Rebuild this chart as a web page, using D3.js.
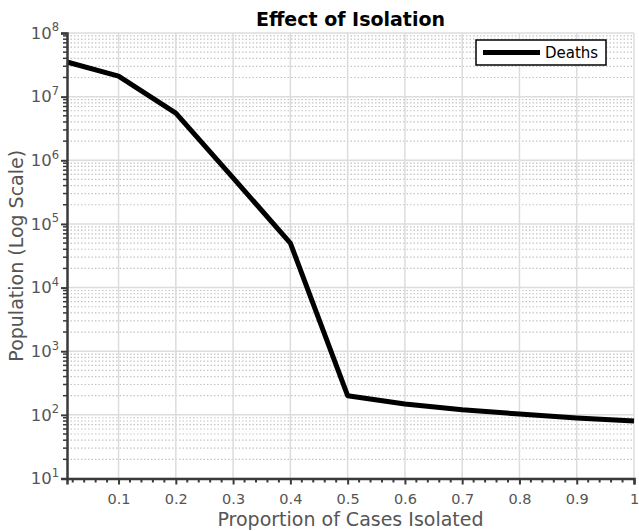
<!DOCTYPE html>
<html>
<head>
<meta charset="utf-8">
<script src="https://cdn.jsdelivr.net/npm/d3@7"></script>
<style>
  html, body { margin: 0; padding: 0; background: #fff; }
  svg { display: block; font-family: "DejaVu Sans", sans-serif; }
</style>
</head>
<body>
<svg id="chart" width="639" height="531"></svg>
<script>
// Proportion of cases isolated vs. resulting deaths
const isolated = [0.01, 0.1, 0.2, 0.3, 0.4, 0.5, 0.6, 0.7, 0.8, 0.9, 1.0];
const deaths = [3.5e7, 2.1e7, 5.5e6, 5.3e5, 5.0e4, 200, 148, 120, 103, 89, 80];
const xMajorTicks = [0.1, 0.2, 0.3, 0.4, 0.5, 0.6, 0.7, 0.8, 0.9, 1.0];
const yExponents = [1, 2, 3, 4, 5, 6, 7, 8];
const seriesName = "Deaths";

const svg = d3.select("#chart");

const x = d3.scaleLinear().domain([0.01, 1]).range([67, 634]);
const y = d3.scaleLog().domain([10, 1e8]).range([478.5, 33]);

// minor tick values
const xMinor = d3.range(1, 50).map(i => i * 0.02).filter(v => Math.abs(v * 10 - Math.round(v * 10)) > 1e-6);
const yMinor = [];
yExponents.slice(0, -1).forEach(e => { for (let m = 2; m <= 9; m++) yMinor.push(m * Math.pow(10, e)); });

const grid = svg.append("g");
// minor horizontal grid (dotted)
grid.selectAll("line.ymin").data(yMinor).join("line")
  .attr("x1", x(0.01)).attr("x2", x(1))
  .attr("y1", d => y(d)).attr("y2", d => y(d))
  .attr("stroke", "#c4c4c4").attr("stroke-width", 1.2)
  .attr("stroke-dasharray", "1.5,2");
// major horizontal grid
grid.selectAll("line.ymaj").data(yExponents.map(e => Math.pow(10, e))).join("line")
  .attr("x1", x(0.01)).attr("x2", x(1))
  .attr("y1", d => y(d)).attr("y2", d => y(d))
  .attr("stroke", "#dcdcdc").attr("stroke-width", 1.5);
// major vertical grid
grid.selectAll("line.xmaj").data(xMajorTicks).join("line")
  .attr("x1", d => x(d)).attr("x2", d => x(d))
  .attr("y1", y(1e8)).attr("y2", y(10))
  .attr("stroke", "#dcdcdc").attr("stroke-width", 1.5);

// data line
const line = d3.line().x((d, i) => x(isolated[i])).y(d => y(d));
svg.append("path").datum(deaths)
  .attr("d", line)
  .attr("fill", "none").attr("stroke", "#000").attr("stroke-width", 5)
  .attr("stroke-linejoin", "round");

// axes
const axisColor = "#3a3a3a";
const xAxis = svg.append("g").attr("transform", `translate(0,${y(10)})`)
  .call(d3.axisBottom(x).tickValues(xMajorTicks).tickSize(6).tickPadding(9)
    .tickFormat(d => Math.abs(d - 1) < 1e-9 ? "1" : d3.format(".1f")(d)));
xAxis.append("g").selectAll("line").data(xMinor).join("line")
  .attr("x1", d => x(d)).attr("x2", d => x(d)).attr("y1", 0).attr("y2", 4)
  .attr("stroke", axisColor).attr("stroke-width", 2);

const yAxis = svg.append("g").attr("transform", `translate(${x(0.01)},0)`)
  .call(d3.axisLeft(y).tickValues(yExponents.map(e => Math.pow(10, e))).tickSize(6).tickPadding(4)
    .tickFormat(() => ""));
yAxis.append("g").selectAll("line").data(yMinor).join("line")
  .attr("x1", 0).attr("x2", -4).attr("y1", d => y(d)).attr("y2", d => y(d))
  .attr("stroke", axisColor).attr("stroke-width", 1.5);

[xAxis, yAxis].forEach(g => {
  g.select(".domain").attr("stroke", axisColor).attr("stroke-width", 2.5);
  g.selectAll(".tick line").attr("stroke", axisColor).attr("stroke-width", 2);
  g.selectAll(".tick text").attr("fill", "#555").attr("font-size", 14.5)
    .attr("font-family", "DejaVu Sans, sans-serif");
});

// y tick labels as 10 with superscript exponent
yAxis.selectAll(".tick").each(function(d) {
  const t = d3.select(this).select("text").text(null)
    .attr("x", -8).attr("dy", "0.32em").attr("font-size", 16.5);
  t.append("tspan").text("10");
  t.append("tspan").text(Math.round(Math.log10(d)))
    .attr("font-size", 11.5).attr("dy", "-0.65em");
});

// title and axis labels
svg.append("text").attr("x", (x(0.01) + x(1)) / 2).attr("y", 26)
  .attr("text-anchor", "middle").attr("font-weight", "bold").attr("font-size", 19)
  .attr("fill", "#000").text("Effect of Isolation");
svg.append("text").attr("x", (x(0.01) + x(1)) / 2).attr("y", 526)
  .attr("text-anchor", "middle").attr("font-size", 19).attr("fill", "#555")
  .text("Proportion of Cases Isolated");
svg.append("text").attr("transform", `translate(23,${(y(1e8) + y(10)) / 2}) rotate(-90)`)
  .attr("text-anchor", "middle").attr("font-size", 19).attr("fill", "#555")
  .text("Population (Log Scale)");

// legend
const lg = svg.append("g").attr("transform", "translate(476,40)");
lg.append("rect").attr("width", 130).attr("height", 25)
  .attr("fill", "#fff").attr("stroke", "#000").attr("stroke-width", 1.5);
lg.append("line").attr("x1", 7).attr("x2", 64).attr("y1", 12.5).attr("y2", 12.5)
  .attr("stroke", "#000").attr("stroke-width", 5);
lg.append("text").attr("x", 69).attr("y", 12.5).attr("dy", "0.35em")
  .attr("font-size", 15).attr("fill", "#000").text(seriesName);
</script>
</body>
</html>
